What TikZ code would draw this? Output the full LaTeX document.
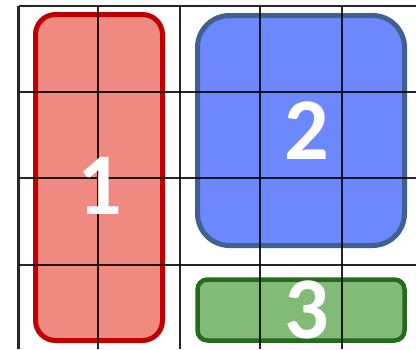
\documentclass[tikz,border=0pt]{standalone}
\usepackage{fontspec}
\setmainfont{Carlito}
\definecolor{redfill}{HTML}{F08A80}
\definecolor{redline}{HTML}{C00000}
\definecolor{bluefill}{HTML}{6D87FF}
\definecolor{blueline}{HTML}{3F6190}
\definecolor{greenfill}{HTML}{82BA78}
\definecolor{greenline}{HTML}{246B1E}
\begin{document}
\begin{tikzpicture}[x=1pt,y=-1pt,
  box/.style={draw,line width=5pt,inner sep=0pt,outer sep=0pt},
  gridline/.style={black,line width=2.2pt,opacity=0.85},
  num/.style={text=white,font=\bfseries\fontsize{88}{88}\selectfont,inner sep=0pt}]
\useasboundingbox (0,0) rectangle (416,349);
\fill[white] (0,0) rectangle (416,349);
% boxes
\node[box,fill=redfill,draw=redline,rounded corners=20pt,minimum width=127pt,minimum height=326pt,anchor=north west] (b1) at (35.5,14.5) {};
\node[box,fill=bluefill,draw=blueline,rounded corners=32pt,minimum width=207pt,minimum height=230pt,anchor=north west] (b2) at (197.5,15.5) {};
\node[box,line width=4.5pt,fill=greenfill,draw=greenline,rounded corners=10pt,minimum width=207pt,minimum height=61pt,anchor=north west] (b3) at (197.5,279.5) {};
% grid
\foreach \x in {18.5,98,180,260,342} \draw[gridline] (\x,6) -- (\x,349);
\foreach \y in {6,92,178,265} \draw[gridline] (18.5,\y) -- (416,\y);
% labels
\node[num] (t1) at (100,185.5) {1};
\node[num] (t2) at (307,131) {2};
\node[num] (t3) at (307,310) {3};
\end{tikzpicture}
\end{document}
